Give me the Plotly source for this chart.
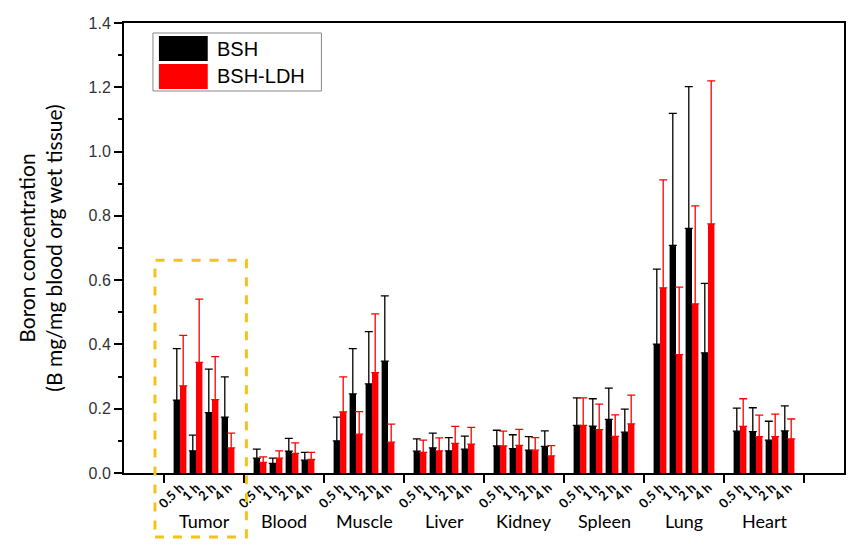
import plotly.graph_objects as go

tissues = ["Tumor", "Blood", "Muscle", "Liver", "Kidney", "Spleen", "Lung", "Heart"]
times = ["0.5 h", "1 h", "2 h", "4 h"]

# BSH mean values (tissue-major, 4 time points each)
bsh = [0.227, 0.069, 0.188, 0.174,
       0.046, 0.030, 0.068, 0.040,
       0.100, 0.246, 0.277, 0.348,
       0.068, 0.078, 0.069, 0.074,
       0.084, 0.076, 0.071, 0.083,
       0.148, 0.146, 0.167, 0.127,
       0.401, 0.708, 0.761, 0.374,
       0.130, 0.129, 0.102, 0.131]
bsh_err = [0.160, 0.049, 0.135, 0.125,
           0.028, 0.016, 0.040, 0.024,
           0.074, 0.141, 0.163, 0.203,
           0.038, 0.046, 0.041, 0.041,
           0.049, 0.043, 0.042, 0.048,
           0.086, 0.085, 0.097, 0.072,
           0.233, 0.411, 0.441, 0.216,
           0.072, 0.074, 0.059, 0.078]

# BSH-LDH mean values
ldh = [0.271, 0.344, 0.228, 0.078,
       0.033, 0.046, 0.061, 0.042,
       0.190, 0.121, 0.312, 0.096,
       0.064, 0.069, 0.092, 0.090,
       0.084, 0.086, 0.071, 0.053,
       0.148, 0.135, 0.114, 0.153,
       0.576, 0.368, 0.526, 0.775,
       0.145, 0.113, 0.113, 0.106]
ldh_err = [0.157, 0.197, 0.134, 0.046,
           0.017, 0.023, 0.033, 0.022,
           0.109, 0.070, 0.183, 0.056,
           0.038, 0.040, 0.053, 0.052,
           0.046, 0.050, 0.039, 0.032,
           0.086, 0.079, 0.067, 0.089,
           0.336, 0.210, 0.305, 0.445,
           0.086, 0.067, 0.070, 0.062]

y_ticks = [0.0, 0.2, 0.4, 0.6, 0.8, 1.0, 1.2, 1.4]

GROUP = len(times) + 1
xpos = [g * GROUP + t + 1 for g in range(len(tissues)) for t in range(len(times))]
xtext = [times[t] for g in range(len(tissues)) for t in range(len(times))]

fig = go.Figure()
fig.add_trace(go.Bar(
    x=xpos, y=bsh, name="BSH", marker=dict(color="black", line=dict(width=0)),
    error_y=dict(type="data", array=bsh_err, arrayminus=[0] * len(bsh), symmetric=False,
                 color="black", thickness=1.3, width=4),
    showlegend=False))
fig.add_trace(go.Bar(
    x=xpos, y=ldh, name="BSH-LDH", marker=dict(color="#ff0000", line=dict(width=0)),
    error_y=dict(type="data", array=ldh_err, arrayminus=[0] * len(ldh), symmetric=False,
                 color="#ff0000", thickness=1.3, width=4),
    showlegend=False))

n = len(tissues)
fig.update_layout(
    width=855, height=546,
    margin=dict(l=124, r=9, t=23, b=73),
    paper_bgcolor="white", plot_bgcolor="white",
    barmode="group", bargap=0.2, bargroupgap=0,
    xaxis=dict(
        range=[-2.5, n * GROUP + 2.5],
        tickmode="array", tickvals=xpos, ticktext=xtext, tickangle=-45,
        ticks="", ticklen=0,
        tickfont=dict(family="Lato", size=13, color="black", weight="bold"),
        showline=True, linecolor="black", linewidth=2, mirror=True,
        showgrid=False, zeroline=False,
        minor=dict(tickmode="array", tickvals=[g * GROUP for g in range(n + 1)],
                   ticks="outside", ticklen=8, tickwidth=2, tickcolor="black", showgrid=False),
    ),
    yaxis=dict(
        range=[0, 1.4],
        tickmode="array", tickvals=y_ticks, ticktext=[f"{v:.1f}" for v in y_ticks],
        ticks="outside", ticklen=8, tickwidth=2, tickcolor="black",
        tickfont=dict(family="Liberation Sans", size=16, color="#333333"),
        showline=True, linecolor="black", linewidth=2, mirror=True,
        showgrid=False, zeroline=False,
        minor=dict(dtick=0.1, tick0=0, ticks="outside", ticklen=4, tickwidth=1.5,
                   tickcolor="black", showgrid=False),
        title=dict(text="Boron concentration<br>(B mg/mg blood org wet tissue)",
                   font=dict(family="Lato", size=21, color="black"), standoff=20),
    ),
)

# tissue group labels
for g, name in enumerate(tissues):
    fig.add_annotation(x=g * GROUP + (GROUP) / 2, y=-0.107, xref="x", yref="paper",
                       text=name, showarrow=False, xanchor="center", yanchor="middle",
                       font=dict(family="Lato", size=18, color="black"))

# dashed highlight around Tumor group
fig.add_shape(type="rect", xref="paper", yref="paper",
              x0=0.043, x1=0.170, y0=-0.142, y1=0.473,
              line=dict(color="#F5C21B", width=3, dash="dash"), fillcolor="rgba(0,0,0,0)")

# legend box
fig.add_shape(type="rect", xref="paper", yref="paper",
              x0=0.0402, x1=0.2742, y0=0.8489, y1=0.9778,
              line=dict(color="#888888", width=1), fillcolor="white")
fig.add_shape(type="rect", xref="paper", yref="paper",
              x0=0.0485, x1=0.1163, y0=0.9156, y1=0.971,
              line=dict(width=0), fillcolor="black")
fig.add_shape(type="rect", xref="paper", yref="paper",
              x0=0.0485, x1=0.1163, y0=0.8533, y1=0.9089,
              line=dict(width=0), fillcolor="#ff0000")
fig.add_annotation(x=0.126, y=0.9433, xref="paper", yref="paper", text="BSH",
                   showarrow=False, xanchor="left", yanchor="middle",
                   font=dict(family="Liberation Sans", size=20, color="black"))
fig.add_annotation(x=0.126, y=0.882, xref="paper", yref="paper", text="BSH-LDH",
                   showarrow=False, xanchor="left", yanchor="middle",
                   font=dict(family="Liberation Sans", size=20, color="black"))

fig.write_html("out.html", config={"displayModeBar": False},
               post_script="document.body.style.margin='0';")
